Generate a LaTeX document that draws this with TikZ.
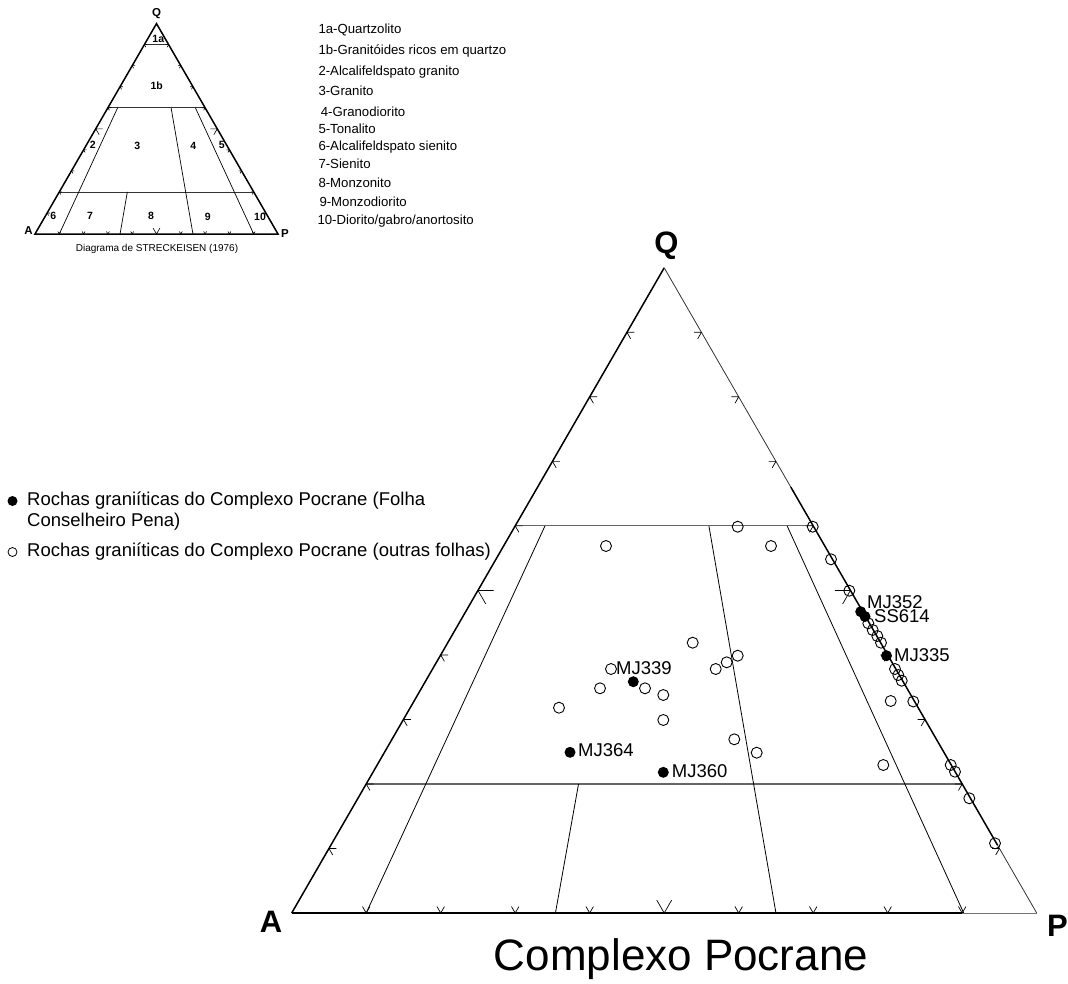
\documentclass[tikz,border=0pt]{standalone}
\usepackage{fontspec}
\setmainfont{Liberation Sans}
\begin{document}
\begin{tikzpicture}[x=1pt,y=-1pt,
  edge/.style={line width=1.5pt, black},
  thinedge/.style={line width=0.8pt, black!80},
  field/.style={line width=0.8pt, black},
  grid/.style={line width=1.2pt, black!60},
  tickmark/.style={line width=0.7pt, black},
  opendot/.style={circle, draw, line width=0.9pt, minimum size=11pt, inner sep=0pt},
  fulldot/.style={circle, fill=black, minimum size=11pt, inner sep=0pt},
  sample/.style={anchor=west, inner sep=0pt, font=\fontsize{18.5}{20}\selectfont},
  legtext/.style={anchor=base west, inner sep=0pt, font=\fontsize{18.5}{21}\selectfont},
  keytext/.style={anchor=base west, inner sep=0pt, font=\fontsize{13.2}{15}\selectfont},
  smalllab/.style={inner sep=0pt, font=\fontsize{10.5}{12}\selectfont\bfseries},
  smallapex/.style={inner sep=0pt, font=\fontsize{11.5}{13}\selectfont\bfseries},
  apex/.style={anchor=base, inner sep=0pt, font=\fontsize{31}{34}\selectfont\bfseries},
]
\useasboundingbox (0,0) rectangle (1068,983);

% ---------- small reference triangle (Streckeisen fields) ----------
\begin{scope}[shift={(35,234)}, x={(243pt,0pt)}, y={(121.5pt,210.4pt)}]
  \coordinate (sA) at (0,0);
  \coordinate (sP) at (1,0);
  \coordinate (sQ) at (0,1);
  \draw[line width=0.8pt, black!80] (0,0.9) -- (0.1,0.9);
  \draw[line width=0.8pt, black!80] (0,0.6) -- (0.4,0.6);
  \draw[line width=0.8pt, black!80] (0,0.2) -- (0.8,0.2);
  \draw[line width=0.7pt] (0.04,0.6) -- (0.1,0);
  \draw[line width=0.7pt] (0.26,0.6) -- (0.65,0);
  \draw[line width=0.7pt] (0.36,0.6) -- (0.9,0);
  \draw[line width=0.7pt] (0.28,0.2) -- (0.35,0);
  \draw[line width=1.5pt, line join=miter] (sA) -- (sQ) -- (sP) -- cycle;
  \foreach \t in {0.1,0.2,0.3,0.4,0.6,0.7,0.8,0.9} {
    \draw[line width=0.6pt] (0,\t) -- ++(0.012,0) (0,\t) -- ++(0.012,-0.012);
    \draw[line width=0.6pt] ({1-\t},\t) -- ++(-0.012,0) ({1-\t},\t) -- ++(0,-0.012);
    \draw[line width=0.6pt] (\t,0) -- ++(0,0.012) (\t,0) -- ++(-0.012,0.012);
  }
  \draw[line width=0.6pt] (0,0.5) -- ++(0.028,0) (0,0.5) -- ++(0.028,-0.028);
  \draw[line width=0.6pt] (0.5,0.5) -- ++(-0.028,0) (0.5,0.5) -- ++(0,-0.028);
  \draw[line width=0.6pt] (0.5,0) -- ++(0,0.028) (0.5,0) -- ++(-0.028,0.028);
\end{scope}

\node[smallapex] (sQlab) at (156.7,13.5) {Q};
\node[smallapex] (sAlab) at (28.5,230.5) {A};
\node[smallapex] (sPlab) at (285,234) {P};
\node[smalllab] (f1a) at (158.3,38.5) {1a};
\node[smalllab] (f1b) at (156.7,86) {1b};
\node[smalllab] (f2) at (92.7,145) {2};
\node[smalllab] (f3) at (137.3,145.7) {3};
\node[smalllab] (f4) at (193.3,145.7) {4};
\node[smalllab] (f5) at (221.7,145) {5};
\node[smalllab] (f6) at (53.3,216) {6};
\node[smalllab] (f7) at (90,216) {7};
\node[smalllab] (f8) at (151,216) {8};
\node[smalllab] (f9) at (207.7,216.7) {9};
\node[smalllab] (f10) at (260,216.7) {10};
\node[inner sep=0pt, font=\fontsize{10}{12}\selectfont] (src) at (157,249) {Diagrama de STRECKEISEN (1976)};

% ---------- key to the fields ----------
\node[keytext] (k1a) at (318.3,33) {1a-Quartzolito};
\node[keytext] (k1b) at (318.3,54) {1b-Granitóides ricos em quartzo};
\node[keytext] (k2) at (318.3,75.4) {2-Alcalifeldspato granito};
\node[keytext] (k3) at (318.3,95.4) {3-Granito};
\node[keytext] (k4) at (320.7,116.4) {4-Granodiorito};
\node[keytext] (k5) at (318.3,133) {5-Tonalito};
\node[keytext] (k6) at (318.3,150.4) {6-Alcalifeldspato sienito};
\node[keytext] (k7) at (318.3,168.7) {7-Sienito};
\node[keytext] (k8) at (318.3,187) {8-Monzonito};
\node[keytext] (k9) at (319.3,206) {9-Monzodiorito};
\node[keytext] (k10) at (317.3,224.7) {10-Diorito/gabro/anortosito};

% ---------- main QAP triangle ----------
\begin{scope}[shift={(291.7,913)}, x={(745pt,0pt)}, y={(372.5pt,645.2pt)}]
  \coordinate (A) at (0,0);
  \coordinate (P) at (1,0);
  \coordinate (Q) at (0,1);
  \coordinate (R60) at (0.34,0.66);
  \coordinate (R10) at (0.895,0.105);
  \coordinate (B90) at (0.9,0);
  % field boundaries
  \draw[grid, line width=1pt] (0,0.6) -- (0.4,0.6);
  \draw[grid] (0,0.2) -- (0.8,0.2);
  \draw[field] (0.04,0.6) -- (0.1,0);
  \draw[field] (0.26,0.6) -- (0.65,0);
  \draw[field] (0.365,0.6) -- (0.902,0);
  \draw[field] (0.285,0.2) -- (0.354,0);
  % outline
  \draw[edge] (A) -- (Q);
  \draw[thinedge] (Q) -- (R60);
  \draw[edge] (R60) -- (R10);
  \draw[thinedge] (R10) -- (P);
  \draw[edge] (A) -- (B90);
  \draw[thinedge, black!55] (B90) -- (P);
  % scale ticks every 10 %
  \foreach \t in {0.1,0.2,0.3,0.4,0.6,0.7,0.8,0.9} {
    \draw[tickmark] (0,\t) -- ++(0.01,0) (0,\t) -- ++(0.01,-0.01);
    \draw[tickmark] ({1-\t},\t) -- ++(-0.01,0) ({1-\t},\t) -- ++(0,-0.01);
    \draw[tickmark] (\t,0) -- ++(0,0.01) (\t,0) -- ++(-0.01,0.01);
  }
  \draw[tickmark] (0,0.5) -- ++(0.021,0) (0,0.5) -- ++(0.021,-0.021);
  \draw[tickmark] (0.5,0.5) -- ++(-0.021,0) (0.5,0.5) -- ++(0,-0.021);
  \draw[tickmark] (0.5,0) -- ++(0,0.02) (0.5,0) -- ++(-0.02,0.02);
\end{scope}

\node[apex] (Qlab) at (666.5,253) {Q};
\node[apex] (Alab) at (271,932) {A};
\node[apex] (Plab) at (1057.5,936) {P};
\node[anchor=base, inner sep=0pt, font=\fontsize{44}{50}\selectfont] (title) at (681,970) {Complexo Pocrane};

% ---------- samples from other sheets ----------
\foreach \x/\y [count=\i] in {
  606/546, 737.7/526.7, 771/546, 812.7/526.7, 831/559.3, 849.3/590.7,
  868.3/623.3, 872.7/630, 877.3/636, 881/642.7, 895/669, 898.3/675,
  901.7/680.7, 890.7/701, 913.3/701.5, 883.3/765, 950.7/765, 955/771.7,
  969.3/798.3, 995/843.3, 611/669, 600/688.3, 559/707.7, 645/688.3,
  663.3/695, 663.3/720, 692.7/642.7, 715.7/669, 726.7/662.3, 737.7/655.7,
  734.3/739.3, 756.7/752.7}
  \node[opendot] (o\i) at (\x,\y) {};

% ---------- samples from the Conselheiro Pena sheet ----------
\node[fulldot] (mj352) at (860.7,611.7) {};
\node[fulldot] (ss614) at (865,616.5) {};
\node[fulldot] (mj335) at (886.5,655.7) {};
\node[fulldot] (mj339) at (633.3,681.7) {};
\node[fulldot] (mj364) at (570,752.3) {};
\node[fulldot] (mj360) at (663.3,772.3) {};

\node[sample] (lmj352) at (867,602) {MJ352};
\node[sample] (lss614) at (874,615.7) {SS614};
\node[sample] (lmj335) at (894,655) {MJ335};
\node[sample] (lmj339) at (616,668) {MJ339};
\node[sample] (lmj364) at (578,750) {MJ364};
\node[sample] (lmj360) at (671.7,771) {MJ360};

% ---------- legend ----------
\node[circle, fill=black, minimum size=10pt, inner sep=0pt] (keyfull) at (12.5,501) {};
\node[legtext] (legfull) at (27,505) {Rochas graniíticas do Complexo Pocrane (Folha};
\node[legtext] (legfull2) at (27,526) {Conselheiro Pena)};
\node[circle, draw, line width=0.8pt, minimum size=9pt, inner sep=0pt] (keyopen) at (12.5,552) {};
\node[legtext] (legopen) at (27,556) {Rochas graniíticas do Complexo Pocrane (outras folhas)};
\end{tikzpicture}
\end{document}
